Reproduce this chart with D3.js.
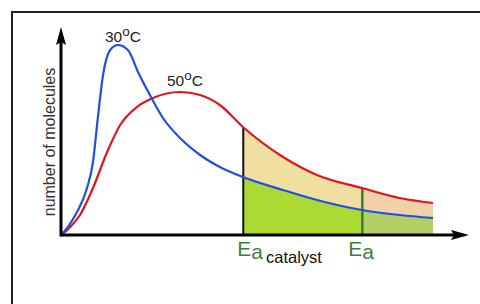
<!DOCTYPE html>
<html>
<head>
<meta charset="utf-8">
<script src="https://cdn.jsdelivr.net/npm/d3@7"></script>
<style>
html,body{margin:0;padding:0;background:#fff;}
svg{display:block;font-family:"Liberation Sans",Arial,Helvetica,sans-serif;}
</style>
</head>
<body>
<svg id="chart" width="480" height="304"></svg>
<script>
// ---- data (energy in arbitrary units 0..100, count in arbitrary units 0..100)
const blueEnergy = [0, 2.2, 4.3, 7.0, 8.6, 9.9, 11.3, 13.2, 15.3, 18.0, 20.7, 23.9, 27.4, 32.0, 37.4, 42.7, 48.9, 59.7, 68.8, 80.9, 91.1, 100];
const blueCount  = [0, 5, 11.5, 23.5, 36.5, 58.5, 80, 92.5, 95, 92.5, 81.5, 70, 58.5, 48.5, 40, 34, 29, 22.5, 17.5, 12.5, 10, 8.5];
const redEnergy  = [0, 2.5, 5.1, 8.6, 12.4, 15.9, 20.4, 24.7, 32.0, 37.4, 42.7, 48.9, 59.7, 68.8, 80.9, 91.1, 100];
const redCount   = [0, 4, 10, 23.5, 41.5, 55, 64, 68.5, 71.5, 70, 65, 54, 39, 30, 23.5, 18.5, 16];
const seriesLabels = ["30", "50"];
const eaCatalyst = 49;
const eaPlain = 81;
const yAxisTitle = "number of molecules";

const svg = d3.select("#chart");
const x = d3.scaleLinear().domain([0, 100]).range([61, 433]);
const y = d3.scaleLinear().domain([0, 100]).range([235, 35]);

const blue = blueEnergy.map((e, i) => [e, blueCount[i]]);
const red = redEnergy.map((e, i) => [e, redCount[i]]);

const curve = d3.curveMonotoneX;
const line = d3.line().x(d => x(d[0])).y(d => y(d[1])).curve(curve);
const area = d3.area().x(d => x(d[0])).y0(y(0)).y1(d => y(d[1])).curve(curve);

const defs = svg.append("defs");
defs.append("clipPath").attr("id", "clipMid").append("rect")
  .attr("x", x(eaCatalyst)).attr("y", 0).attr("width", x(eaPlain) - x(eaCatalyst)).attr("height", 304);
defs.append("clipPath").attr("id", "clipRight").append("rect")
  .attr("x", x(eaPlain)).attr("y", 0).attr("width", x(100) - x(eaPlain)).attr("height", 304);
defs.append("clipPath").attr("id", "clipRed").append("path").attr("d", area(red));

// frame
svg.append("rect").attr("x", 12).attr("y", 12).attr("width", 600).attr("height", 500)
  .attr("fill", "none").attr("stroke", "#222").attr("stroke-width", 2);

// fills
svg.append("path").attr("d", area(red)).attr("fill", "#efe0a2").attr("clip-path", "url(#clipMid)");
svg.append("path").attr("d", area(red)).attr("fill", "#efd1aa").attr("clip-path", "url(#clipRight)");
svg.append("path").attr("d", area(blue)).attr("fill", "#acda33").attr("clip-path", "url(#clipMid)");
svg.append("path").attr("d", area(blue)).attr("fill", "#b2cf66").attr("clip-path", "url(#clipRight)");

// vertical Ea lines, clipped to area under red curve
svg.append("line").attr("x1", x(eaCatalyst)).attr("x2", x(eaCatalyst)).attr("y1", y(0)).attr("y2", y(100))
  .attr("stroke", "#111").attr("stroke-width", 2).attr("clip-path", "url(#clipRed)");
svg.append("line").attr("x1", x(eaPlain)).attr("x2", x(eaPlain)).attr("y1", y(0)).attr("y2", y(100))
  .attr("stroke", "#3c7a35").attr("stroke-width", 2.5).attr("clip-path", "url(#clipRed)");

// curves
svg.append("path").attr("d", line(red)).attr("fill", "none").attr("stroke", "#e0161f").attr("stroke-width", 2.2);
svg.append("path").attr("d", line(blue)).attr("fill", "none").attr("stroke", "#1f4fe2").attr("stroke-width", 2.2);

// axes
const x0 = x(0), y0 = y(0);
svg.append("line").attr("x1", x0).attr("x2", 455).attr("y1", y0).attr("y2", y0).attr("stroke", "#000").attr("stroke-width", 3);
svg.append("path").attr("d", `M469,${y0} L451,${y0 - 5} L454,${y0} L451,${y0 + 5} Z`).attr("fill", "#000");
svg.append("line").attr("x1", x0).attr("x2", x0).attr("y1", y0 + 1.5).attr("y2", 42).attr("stroke", "#000").attr("stroke-width", 3);
svg.append("path").attr("d", `M${x0},27 L${x0 - 5},45 L${x0},42 L${x0 + 5},45 Z`).attr("fill", "#000");

// y-axis title
svg.append("text").attr("transform", "translate(55,142) rotate(-90)").attr("text-anchor", "middle")
  .attr("font-size", 16).attr("fill", "#333").text(yAxisTitle);

// temperature labels
function tempLabel(px, py, num) {
  const t = svg.append("text").attr("x", px).attr("y", py).attr("font-size", 15.5).attr("fill", "#222");
  t.append("tspan").text(num);
  t.append("tspan").attr("dy", -6).attr("font-size", 13.5).text("o");
  t.append("tspan").attr("dy", 6).text("C");
}
tempLabel(105, 42, seriesLabels[0]);
tempLabel(167, 86, seriesLabels[1]);

// Ea labels
const g1 = svg.append("text").attr("x", x(eaCatalyst) - 6).attr("y", 256).attr("font-size", 21).attr("fill", "#3f7d3d");
g1.append("tspan").text("E");
g1.append("tspan").attr("dy", 3).text("a");
g1.append("tspan").attr("dy", 4).attr("dx", 3).attr("font-size", 16.5).attr("fill", "#111").text("catalyst");

const g2 = svg.append("text").attr("x", x(eaPlain) - 14).attr("y", 256).attr("font-size", 21).attr("fill", "#3f7d3d");
g2.append("tspan").text("E");
g2.append("tspan").attr("dy", 3).text("a");
</script>
</body>
</html>
